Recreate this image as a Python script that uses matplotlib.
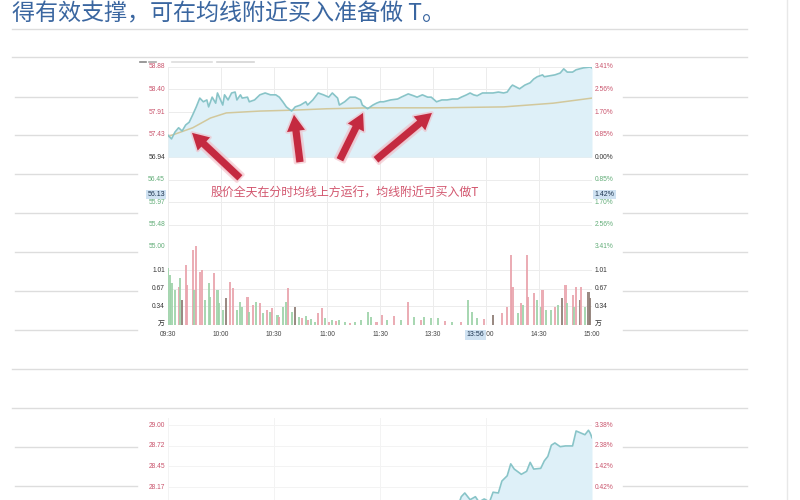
import matplotlib
matplotlib.use('Agg')
from matplotlib import pyplot as plt
from matplotlib.lines import Line2D

plt.rcParams['font.family'] = ['Noto Sans CJK SC', 'DejaVu Sans']

# 分时价格：分钟序号（0=09:30，240=15:00）和价格
price_min = [0, 2, 4, 6, 8, 10, 12, 14, 16, 18, 20, 22, 23, 25, 27, 28, 31, 32, 34, 36,
             38, 39, 41, 42, 45, 46, 49, 52, 55, 58, 61, 63, 65, 67, 70, 72, 75, 78, 79, 82,
             85, 88, 91, 93, 96, 97, 100, 103, 106, 109, 110, 113, 116, 118, 120, 122, 126, 130, 132, 136,
             139, 141, 144, 147, 149, 152, 155, 158, 161, 164, 166, 169, 171, 173, 175, 178, 181, 184, 187, 190,
             192, 194, 195, 198, 199, 202, 205, 207, 209, 212, 213, 216, 219, 222, 224, 226, 229, 231, 235, 239,
             240]
price_val = [57.41, 57.33, 57.48, 57.57, 57.50, 57.63, 57.69, 57.85, 58.02, 58.21, 58.13, 58.17, 58.02, 58.23, 58.10, 58.32, 58.06, 58.28, 58.17, 58.32,
             58.34, 58.17, 58.28, 58.21, 58.23, 58.13, 58.17, 58.28, 58.32, 58.28, 58.28, 58.23, 58.13, 58.02, 57.93, 58.02, 58.06, 58.13, 58.06, 58.17,
             58.32, 58.28, 58.23, 58.32, 58.21, 58.06, 58.13, 58.23, 58.23, 58.17, 58.06, 57.98, 58.06, 58.10, 58.13, 58.13, 58.17, 58.19, 58.23, 58.30,
             58.26, 58.23, 58.28, 58.23, 58.23, 58.13, 58.17, 58.17, 58.19, 58.19, 58.23, 58.28, 58.32, 58.28, 58.26, 58.32, 58.32, 58.32, 58.34, 58.32,
             58.34, 58.45, 58.49, 58.43, 58.41, 58.49, 58.54, 58.62, 58.67, 58.71, 58.67, 58.69, 58.71, 58.75, 58.84, 58.77, 58.77, 58.82, 58.86, 58.88,
             58.86]

# 分时均线
avg_min = [0, 14, 24, 33, 52, 71, 90, 114, 133, 152, 190, 218, 240]
avg_val = [57.38, 57.57, 57.78, 57.89, 57.93, 57.95, 57.98, 58.00, 58.00, 58.00, 58.02, 58.10, 58.21]

# 成交量（万），g=跌 r=涨 d=深色
vol_min = [0, 1, 2, 4, 6, 7, 8, 10, 11, 14, 15, 16, 18, 19, 21, 23, 24, 26, 28, 29,
           31, 33, 35, 37, 39, 41, 42, 45, 46, 48, 50, 52, 54, 56, 58, 59, 62, 63, 65, 67,
           68, 70, 72, 74, 76, 78, 79, 81, 83, 85, 87, 89, 91, 93, 95, 97, 100, 103, 106, 109,
           113, 115, 118, 121, 124, 128, 132, 136, 139, 143, 145, 149, 153, 157, 161, 166, 170, 172, 175, 179,
           184, 189, 192, 194, 195, 198, 200, 201, 203, 204, 207, 209, 211, 212, 214, 217, 219, 221, 223, 225,
           226, 229, 230, 231, 233, 234, 236, 238, 239]
vol_val = [1.05, 0.92, 0.77, 0.64, 0.70, 0.86, 0.46, 1.10, 0.74, 1.38, 0.64, 1.45, 0.98, 1.01, 0.46, 0.77, 0.52, 0.96, 0.64, 0.40,
           0.28, 0.50, 0.79, 0.68, 0.28, 0.42, 0.33, 0.52, 0.24, 0.37, 0.42, 0.40, 0.22, 0.28, 0.24, 0.31, 0.18, 0.15, 0.33, 0.42,
           0.68, 0.24, 0.33, 0.15, 0.13, 0.17, 0.09, 0.11, 0.06, 0.22, 0.31, 0.13, 0.06, 0.09, 0.07, 0.09, 0.06, 0.04, 0.06, 0.09,
           0.24, 0.15, 0.06, 0.18, 0.09, 0.17, 0.09, 0.42, 0.15, 0.09, 0.15, 0.13, 0.13, 0.07, 0.06, 0.06, 0.46, 0.24, 0.13, 0.11,
           0.18, 0.22, 0.33, 1.29, 0.70, 0.22, 0.40, 0.37, 1.29, 0.52, 0.59, 0.46, 0.33, 0.64, 0.28, 0.28, 0.33, 0.37, 0.50, 0.74,
           0.40, 0.55, 0.33, 0.70, 0.46, 0.70, 0.33, 0.61, 0.50]
vol_side = ("ggggrgdrrr" "grrrgggrgg" "gdrrgggrgr" "grgrgrgrgg" "rgdgrgrggr" "rgrgrggrgg"
            "ggrrgrgrgr" "gggrgrgggr" "drrrrgrgrr" "rggrggrgdr" "grgrdrgdd")

pre_close = 56.94
price_ticks = [58.88, 58.40, 57.91, 57.43, 56.94, 56.45, 55.97, 55.48, 55.00]
price_labels = ['58.88', '58.40', '57.91', '57.43', '56.94', '56.45', '55.97', '55.48', '55.00']
pct_labels = ['3.41%', '2.56%', '1.70%', '0.85%', '0.00%', '0.85%', '1.70%', '2.56%', '3.41%']
vol_ticks = [1.01, 0.67, 0.34]
time_pos = [0, 30, 60, 90, 120, 150, 180, 210, 240]
time_labels = ['09:30', '10:00', '10:30', '11:00', '11:30', '13:30', '14:00', '14:30', '15:00']

# 下方第二张图（只露出上半部分）
low_min = [164, 166, 168, 171, 174, 176, 179, 182, 184, 187, 189, 192, 194, 196, 200, 203,
           205, 207, 211, 213, 215, 217, 219, 222, 225, 229, 231, 234, 236, 238, 239, 240]
low_val = [27.90, 28.04, 28.09, 28.00, 28.04, 27.97, 28.01, 27.97, 28.10, 28.09, 28.25, 28.32, 28.48, 28.41, 28.34, 28.38,
           28.50, 28.41, 28.42, 28.52, 28.58, 28.73, 28.76, 28.71, 28.72, 28.72, 28.92, 28.89, 28.87, 28.93, 28.89, 28.83]
low_ticks = [29.00, 28.72, 28.45, 28.17]
low_labels = ['29.00', '28.72', '28.45', '28.17']
low_pct = ['3.38%', '2.38%', '1.42%', '0.42%']

RED = '#c9546c'
GREEN = '#62ad78'
GRID = '#ececec'
NUM_FONT = ['Liberation Sans', 'DejaVu Sans']


def px(x0, y0, x1, y1):
    # 像素框 -> figure 坐标
    return [x0 / 800, 1 - y1 / 500, (x1 - x0) / 800, (y1 - y0) / 500]


def clean(ax):
    for s in ax.spines.values():
        s.set_visible(False)
    ax.tick_params(length=0, labelleft=False, labelbottom=False)
    ax.patch.set_alpha(0)


fig = plt.figure(figsize=(8, 5), dpi=100)

# 页面背景横线
def hline(y, x0, x1, c='#dddddd'):
    fig.add_artist(Line2D([x0 / 800, x1 / 800], [1 - y / 500, 1 - y / 500], color=c, lw=1))

hline(29, 12, 747)
for y in [57, 369, 408]:
    hline(y, 12, 747)
for y in [97, 135, 174, 213, 252, 291, 330, 447, 486]:
    hline(y, 15, 137)
    hline(y, 623, 747)
fig.add_artist(Line2D([787 / 800, 787 / 800], [0, 1], color='#e8e8e8', lw=1))

fig.text(12 / 800, 1 - 14 / 500, '得有效支撑，可在均线附近买入准备做 T。',
         fontsize=16.6, color='#3a66a0', va='center', ha='left')

# 图例小线条
for (a, b, c) in [(140, 146, '#888888'), (149, 156, '#aaaaaa'), (172, 212, '#dddddd'), (217, 254, '#d4d4d4')]:
    fig.add_artist(Line2D([a / 800, b / 800], [1 - 62 / 500] * 2, color=c, lw=1.2))

# ---- 分时价格 ----
ax_p = fig.add_axes(px(168, 67, 592, 247))
clean(ax_p)
ax_p.set_xlim(0, 240)
ax_p.set_ylim(55.00, 58.88)
ax_p.set_xticks(time_pos)
ax_p.set_yticks(price_ticks)
ax_p.grid(color=GRID, lw=0.7)
ax_p.set_axisbelow(True)

ax_p.fill_between(price_min, price_val, pre_close, color='#def0f8', lw=0)
ax_p.plot(avg_min, avg_val, color='#d2c89c', lw=1.1)
ax_p.plot(price_min, price_val, color='#88c4c8', lw=1.2)

yt = ax_p.get_yaxis_transform()
for v, lab, pct in zip(price_ticks, price_labels, pct_labels):
    if v > pre_close:
        c = RED
    elif v < pre_close:
        c = GREEN
    else:
        c = '#333333'
    ax_p.text(-0.007, v, lab, transform=yt, ha='right', va='center', fontsize=4.8, color=c, family=NUM_FONT)
    ax_p.text(1.006, v, pct, transform=yt, ha='left', va='center', fontsize=4.8, color=c, family=NUM_FONT)

box = dict(boxstyle='square,pad=0.2', fc='#cfe2f2', ec='none')
ax_p.text(-0.007, 56.13, '56.13', transform=yt, ha='right', va='center', fontsize=5, color='#1d3550',
          family=NUM_FONT, bbox=box, zorder=5)
ax_p.text(1.006, 56.13, '1.42%', transform=yt, ha='left', va='center', fontsize=5, color='#1d3550',
          family=NUM_FONT, bbox=box, zorder=5)

# 红色箭头
arrows = [((40.7, 56.49), (13.6, 57.46)),
          ((74.7, 56.83), (71.3, 57.85)),
          ((97.3, 56.88), (110.4, 57.89)),
          ((117.7, 56.88), (149.4, 57.89))]
for tail, tip in arrows:
    ax_p.annotate('', xy=tip, xytext=tail, annotation_clip=False,
                  arrowprops=dict(arrowstyle='simple,head_length=0.9,head_width=1.0,tail_width=0.5',
                                  fc='#f2b6c0', ec='#f2b6c0', lw=2.5, alpha=0.55,
                                  mutation_scale=13, shrinkA=0, shrinkB=0))
    ax_p.annotate('', xy=tip, xytext=tail, annotation_clip=False,
                  arrowprops=dict(arrowstyle='simple,head_length=0.9,head_width=1.0,tail_width=0.4',
                                  fc='#c42a40', ec='none', mutation_scale=13, shrinkA=0, shrinkB=0))

ax_p.text(100.2, 56.16, '股价全天在分时均线上方运行，均线附近可买入做T',
          ha='center', va='center', fontsize=8.6, color='#d2566e')

# ---- 成交量 ----
ax_v = fig.add_axes(px(168, 245, 592, 325))
clean(ax_v)
ax_v.set_xlim(0, 240)
ax_v.set_ylim(0, 1.47)
ax_v.set_xticks(time_pos)
ax_v.set_yticks(vol_ticks)
ax_v.grid(color=GRID, lw=0.7)
ax_v.set_axisbelow(True)
side_color = {'g': '#9fd3aa', 'r': '#e9a4ad', 'd': '#8f7d76'}
ax_v.bar(vol_min, vol_val, width=1.2, color=[side_color[s] for s in vol_side], lw=0, alpha=0.9)

vt = ax_v.get_yaxis_transform()
for v in vol_ticks:
    ax_v.text(-0.007, v, f'{v:.2f}', transform=vt, ha='right', va='center', fontsize=4.8, color='#333333', family=NUM_FONT)
    ax_v.text(1.006, v, f'{v:.2f}', transform=vt, ha='left', va='center', fontsize=4.8, color='#333333', family=NUM_FONT)
ax_v.text(-0.007, 0.02, '万', transform=vt, ha='right', va='center', fontsize=5, color='#333333')
ax_v.text(1.006, 0.02, '万', transform=vt, ha='left', va='center', fontsize=5, color='#333333')

xt = ax_v.get_xaxis_transform()
for t, lab in zip(time_pos, time_labels):
    ax_v.text(t, -0.125, lab, transform=xt, ha='center', va='center', fontsize=4.8, color='#444444', family=NUM_FONT)
ax_v.text(174, -0.125, '13:56', transform=xt, ha='center', va='center', fontsize=5, color='#1d3550',
          family=NUM_FONT, bbox=box, zorder=5)

# ---- 下方第二张图 ----
ax_b = fig.add_axes(px(168, 418, 592, 500))
clean(ax_b)
ax_b.set_xlim(0, 240)
ax_b.set_ylim(27.996, 29.094)
ax_b.set_xticks([0, 60, 120, 180, 240])
ax_b.set_yticks(low_ticks)
ax_b.grid(color='#f3f3f3', lw=0.7)
ax_b.set_axisbelow(True)
ax_b.fill_between(low_min, low_val, 27.5, color='#def0f8', lw=0)
ax_b.plot(low_min, low_val, color='#88c4c8', lw=1.2)
bt = ax_b.get_yaxis_transform()
for v, lab, pct in zip(low_ticks, low_labels, low_pct):
    ax_b.text(-0.007, v, lab, transform=bt, ha='right', va='center', fontsize=4.8, color=RED, family=NUM_FONT)
    ax_b.text(1.006, v, pct, transform=bt, ha='left', va='center', fontsize=4.8, color=RED, family=NUM_FONT)

fig.savefig('out.png', dpi=100)
